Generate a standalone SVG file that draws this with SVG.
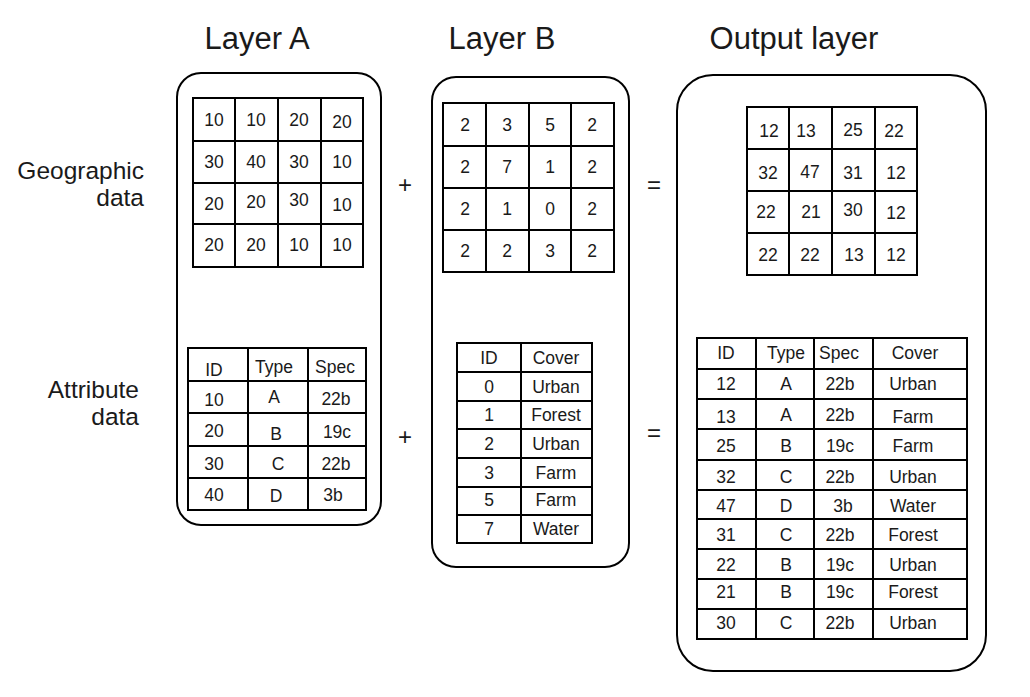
<svg xmlns="http://www.w3.org/2000/svg" width="1030" height="697" viewBox="0 0 1030 697">
<style>
.box{fill:none;stroke:#000;stroke-width:2}
.g{fill:none;stroke:#000;stroke-width:2}
text{font-family:"Liberation Sans","DejaVu Sans",sans-serif;fill:#1a1a1a}
.h{font-size:31px;text-anchor:middle}
.lab{font-size:24.5px;text-anchor:end}
.op{font-size:24px;text-anchor:middle}
.c{font-size:17.5px;text-anchor:middle}
</style>
<rect width="1030" height="697" fill="#fff"/>
<g id="titles">
<text class="h" x="257" y="49">Layer A</text>
<text class="h" x="502" y="49">Layer B</text>
<text class="h" x="794" y="49">Output layer</text>
<text class="lab" x="144" y="179">Geographic</text>
<text class="lab" x="144" y="206">data</text>
<text class="lab" x="139" y="398">Attribute</text>
<text class="lab" x="139" y="425">data</text>
<text class="op" x="405" y="193">+</text>
<text class="op" x="405" y="445">+</text>
<text class="op" x="654" y="193">=</text>
<text class="op" x="654" y="441">=</text>
</g>
<g id="layerA">
<rect class="box" x="177" y="73" width="204" height="452" rx="24"/>
<g id="gridA">
<rect class="g" x="193" y="98" width="170" height="169"/>
<path class="g" d="M235 98V267M278 98V267M321 98V267M193 141H363M193 183H363M193 224H363"/>
<text class="c" x="214" y="126">10</text><text class="c" x="256" y="126">10</text><text class="c" x="299" y="126">20</text><text class="c" x="342" y="128">20</text>
<text class="c" x="214" y="168">30</text><text class="c" x="256" y="168">40</text><text class="c" x="299" y="168">30</text><text class="c" x="342" y="168">10</text>
<text class="c" x="214" y="210">20</text><text class="c" x="256" y="208">20</text><text class="c" x="299" y="206">30</text><text class="c" x="342" y="211">10</text>
<text class="c" x="214" y="251">20</text><text class="c" x="256" y="251">20</text><text class="c" x="299" y="251">10</text><text class="c" x="342" y="251">10</text>
</g>
<g id="tableA">
<rect class="g" x="188" y="348" width="178" height="162"/>
<path class="g" d="M248 348V510M308 348V510M188 381H366M188 413H366M188 446H366M188 478H366"/>
<text class="c" x="214" y="376">ID</text><text class="c" x="274" y="373">Type</text><text class="c" x="335" y="373">Spec</text>
<text class="c" x="214" y="406">10</text><text class="c" x="274" y="403">A</text><text class="c" x="336" y="405">22b</text>
<text class="c" x="214" y="437">20</text><text class="c" x="276" y="440">B</text><text class="c" x="337" y="438">19c</text>
<text class="c" x="214" y="470">30</text><text class="c" x="278" y="470">C</text><text class="c" x="336" y="470">22b</text>
<text class="c" x="214" y="501">40</text><text class="c" x="276" y="502">D</text><text class="c" x="333" y="501">3b</text>
</g>
</g>
<g id="layerB">
<rect class="box" x="432" y="77" width="197" height="490" rx="24"/>
<g id="gridB">
<rect class="g" x="443" y="103" width="171" height="169"/>
<path class="g" d="M486 103V272M529 103V272M571 103V272M443 146H614M443 188H614M443 230H614"/>
<text class="c" x="465" y="131">2</text><text class="c" x="507" y="131">3</text><text class="c" x="550" y="131">5</text><text class="c" x="592" y="131">2</text>
<text class="c" x="465" y="173">2</text><text class="c" x="507" y="173">7</text><text class="c" x="550" y="173">1</text><text class="c" x="592" y="173">2</text>
<text class="c" x="465" y="215">2</text><text class="c" x="507" y="215">1</text><text class="c" x="550" y="215">0</text><text class="c" x="592" y="215">2</text>
<text class="c" x="465" y="257">2</text><text class="c" x="507" y="257">2</text><text class="c" x="550" y="257">3</text><text class="c" x="592" y="257">2</text>
</g>
<g id="tableB">
<rect class="g" x="457" y="343" width="135" height="200"/>
<path class="g" d="M521 343V543M457 372H592M457 401H592M457 429H592M457 458H592M457 487H592M457 515H592"/>
<text class="c" x="489" y="364">ID</text><text class="c" x="556" y="364">Cover</text>
<text class="c" x="489" y="393">0</text><text class="c" x="556" y="393">Urban</text>
<text class="c" x="489" y="421">1</text><text class="c" x="556" y="421">Forest</text>
<text class="c" x="489" y="450">2</text><text class="c" x="556" y="450">Urban</text>
<text class="c" x="489" y="479">3</text><text class="c" x="556" y="479">Farm</text>
<text class="c" x="489" y="506">5</text><text class="c" x="556" y="506">Farm</text>
<text class="c" x="489" y="535">7</text><text class="c" x="556" y="535">Water</text>
</g>
</g>
<g id="output">
<rect class="box" x="677" y="75" width="309" height="596" rx="36"/>
<g id="gridOut">
<rect class="g" x="747" y="107" width="170" height="168"/>
<path class="g" d="M789 107V275M832 107V275M875 107V275M747 149H917M747 191H917M747 233H917"/>
<text class="c" x="769" y="137">12</text><text class="c" x="806" y="137">13</text><text class="c" x="853" y="136">25</text><text class="c" x="894" y="137">22</text>
<text class="c" x="768" y="179">32</text><text class="c" x="810" y="178">47</text><text class="c" x="853" y="179">31</text><text class="c" x="896" y="179">12</text>
<text class="c" x="766" y="218">22</text><text class="c" x="811" y="218">21</text><text class="c" x="853" y="216">30</text><text class="c" x="896" y="219">12</text>
<text class="c" x="768" y="261">22</text><text class="c" x="810" y="261">22</text><text class="c" x="854" y="261">13</text><text class="c" x="896" y="261">12</text>
</g>
<g id="tableOut">
<rect class="g" x="697" y="338" width="270" height="301"/>
<path class="g" d="M756 338V639M814 338V639M873 338V639M697 369H967M697 399H967M697 429H967M697 460H967M697 490H967M697 519H967M697 549H967M697 579H967M697 609H967"/>
<text class="c" x="726" y="359">ID</text><text class="c" x="786" y="359">Type</text><text class="c" x="839" y="359">Spec</text><text class="c" x="915" y="359">Cover</text>
<text class="c" x="726" y="390">12</text><text class="c" x="786" y="390">A</text><text class="c" x="840" y="390">22b</text><text class="c" x="913" y="390">Urban</text>
<text class="c" x="726" y="423">13</text><text class="c" x="786" y="421">A</text><text class="c" x="840" y="421">22b</text><text class="c" x="913" y="423">Farm</text>
<text class="c" x="726" y="452">25</text><text class="c" x="786" y="452">B</text><text class="c" x="840" y="452">19c</text><text class="c" x="913" y="452">Farm</text>
<text class="c" x="726" y="483">32</text><text class="c" x="786" y="483">C</text><text class="c" x="840" y="483">22b</text><text class="c" x="913" y="483">Urban</text>
<text class="c" x="726" y="512">47</text><text class="c" x="786" y="512">D</text><text class="c" x="843" y="512">3b</text><text class="c" x="913" y="512">Water</text>
<text class="c" x="726" y="541">31</text><text class="c" x="786" y="541">C</text><text class="c" x="840" y="541">22b</text><text class="c" x="913" y="541">Forest</text>
<text class="c" x="726" y="571">22</text><text class="c" x="786" y="571">B</text><text class="c" x="840" y="571">19c</text><text class="c" x="913" y="571">Urban</text>
<text class="c" x="726" y="598">21</text><text class="c" x="786" y="598">B</text><text class="c" x="840" y="598">19c</text><text class="c" x="913" y="598">Forest</text>
<text class="c" x="726" y="629">30</text><text class="c" x="786" y="629">C</text><text class="c" x="840" y="629">22b</text><text class="c" x="913" y="629">Urban</text>
</g>
</g>
</svg>
